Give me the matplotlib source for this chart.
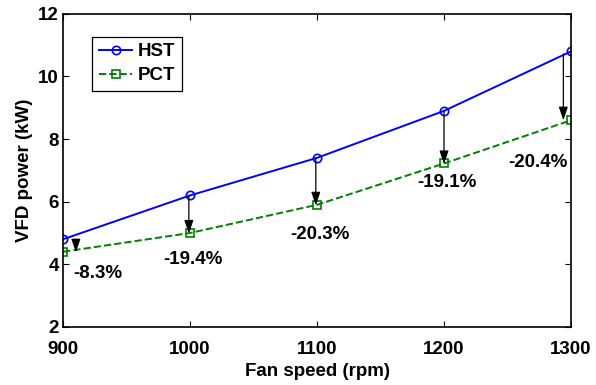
import matplotlib
matplotlib.use("Agg")
import matplotlib.pyplot as plt

fan_speed = [900, 1000, 1100, 1200, 1300]
hst = [4.80, 6.20, 7.40, 8.90, 10.80]
pct = [4.40, 5.00, 5.90, 7.22, 8.60]
labels = ["-8.3%", "-19.4%", "-20.3%", "-19.1%", "-20.4%"]
arrow_x = [910, 999, 1099, 1200, 1294]
arrow_top = [4.80, 6.20, 7.40, 8.90, 10.72]
arrow_bot = [4.38, 4.98, 5.88, 7.20, 8.60]
label_x = [927, 1002, 1102, 1202, 1274]
label_y = [3.72, 4.14, 4.94, 6.60, 7.24]

plt.rcParams['font.family'] = ['Liberation Sans', 'DejaVu Sans']
plt.rcParams['font.weight'] = 'bold'

fig = plt.figure(figsize=(5.96, 3.85), dpi=100)
ax = fig.add_axes([0.106, 0.151, 0.852, 0.813])

ax.plot(fan_speed, hst, '-o', color='#0000FF', lw=1.4, ms=6,
        mfc='none', mew=1.2, label='HST')
ax.plot(fan_speed, pct, '--s', color='#008000', lw=1.4, ms=5.5,
        mfc='none', mew=1.2, label='PCT')

for xa, yt, yb in zip(arrow_x, arrow_top, arrow_bot):
    ax.annotate('', xy=(xa, yb), xytext=(xa, yt),
                arrowprops=dict(arrowstyle='-|>,head_length=0.5,head_width=0.17',
                                color='black', lw=0.9,
                                mutation_scale=16, shrinkA=0, shrinkB=0))

for lx, ly, t in zip(label_x, label_y, labels):
    ax.text(lx, ly, t, ha='center', va='center', fontsize=13.5,
            fontweight='bold')

ax.set_xlim(900, 1300)
ax.set_ylim(2, 12)
ax.set_xticks(fan_speed)
ax.set_yticks([2, 4, 6, 8, 10, 12])
ax.tick_params(direction='in', top=True, right=True, labelsize=13.5,
               width=0.8, length=4)
ax.tick_params(axis='x', pad=10)
ax.tick_params(axis='y', pad=3)
for lab in ax.get_xticklabels() + ax.get_yticklabels():
    lab.set_fontweight('bold')
for s in ax.spines.values():
    s.set_linewidth(1.2)

ax.set_xlabel('Fan speed (rpm)', fontsize=13.5, fontweight='bold', labelpad=4)
ax.set_ylabel('VFD power (kW)', fontsize=13.5, fontweight='bold', labelpad=4)

leg = ax.legend(loc='upper left', bbox_to_anchor=(0.057, 0.927), fontsize=13.5,
                fancybox=False, edgecolor='black', framealpha=1,
                borderaxespad=0, handlelength=1.8, borderpad=0.35,
                labelspacing=0.35, handletextpad=0.3)
leg.get_frame().set_linewidth(0.9)

fig.savefig('out.png', dpi=100)
